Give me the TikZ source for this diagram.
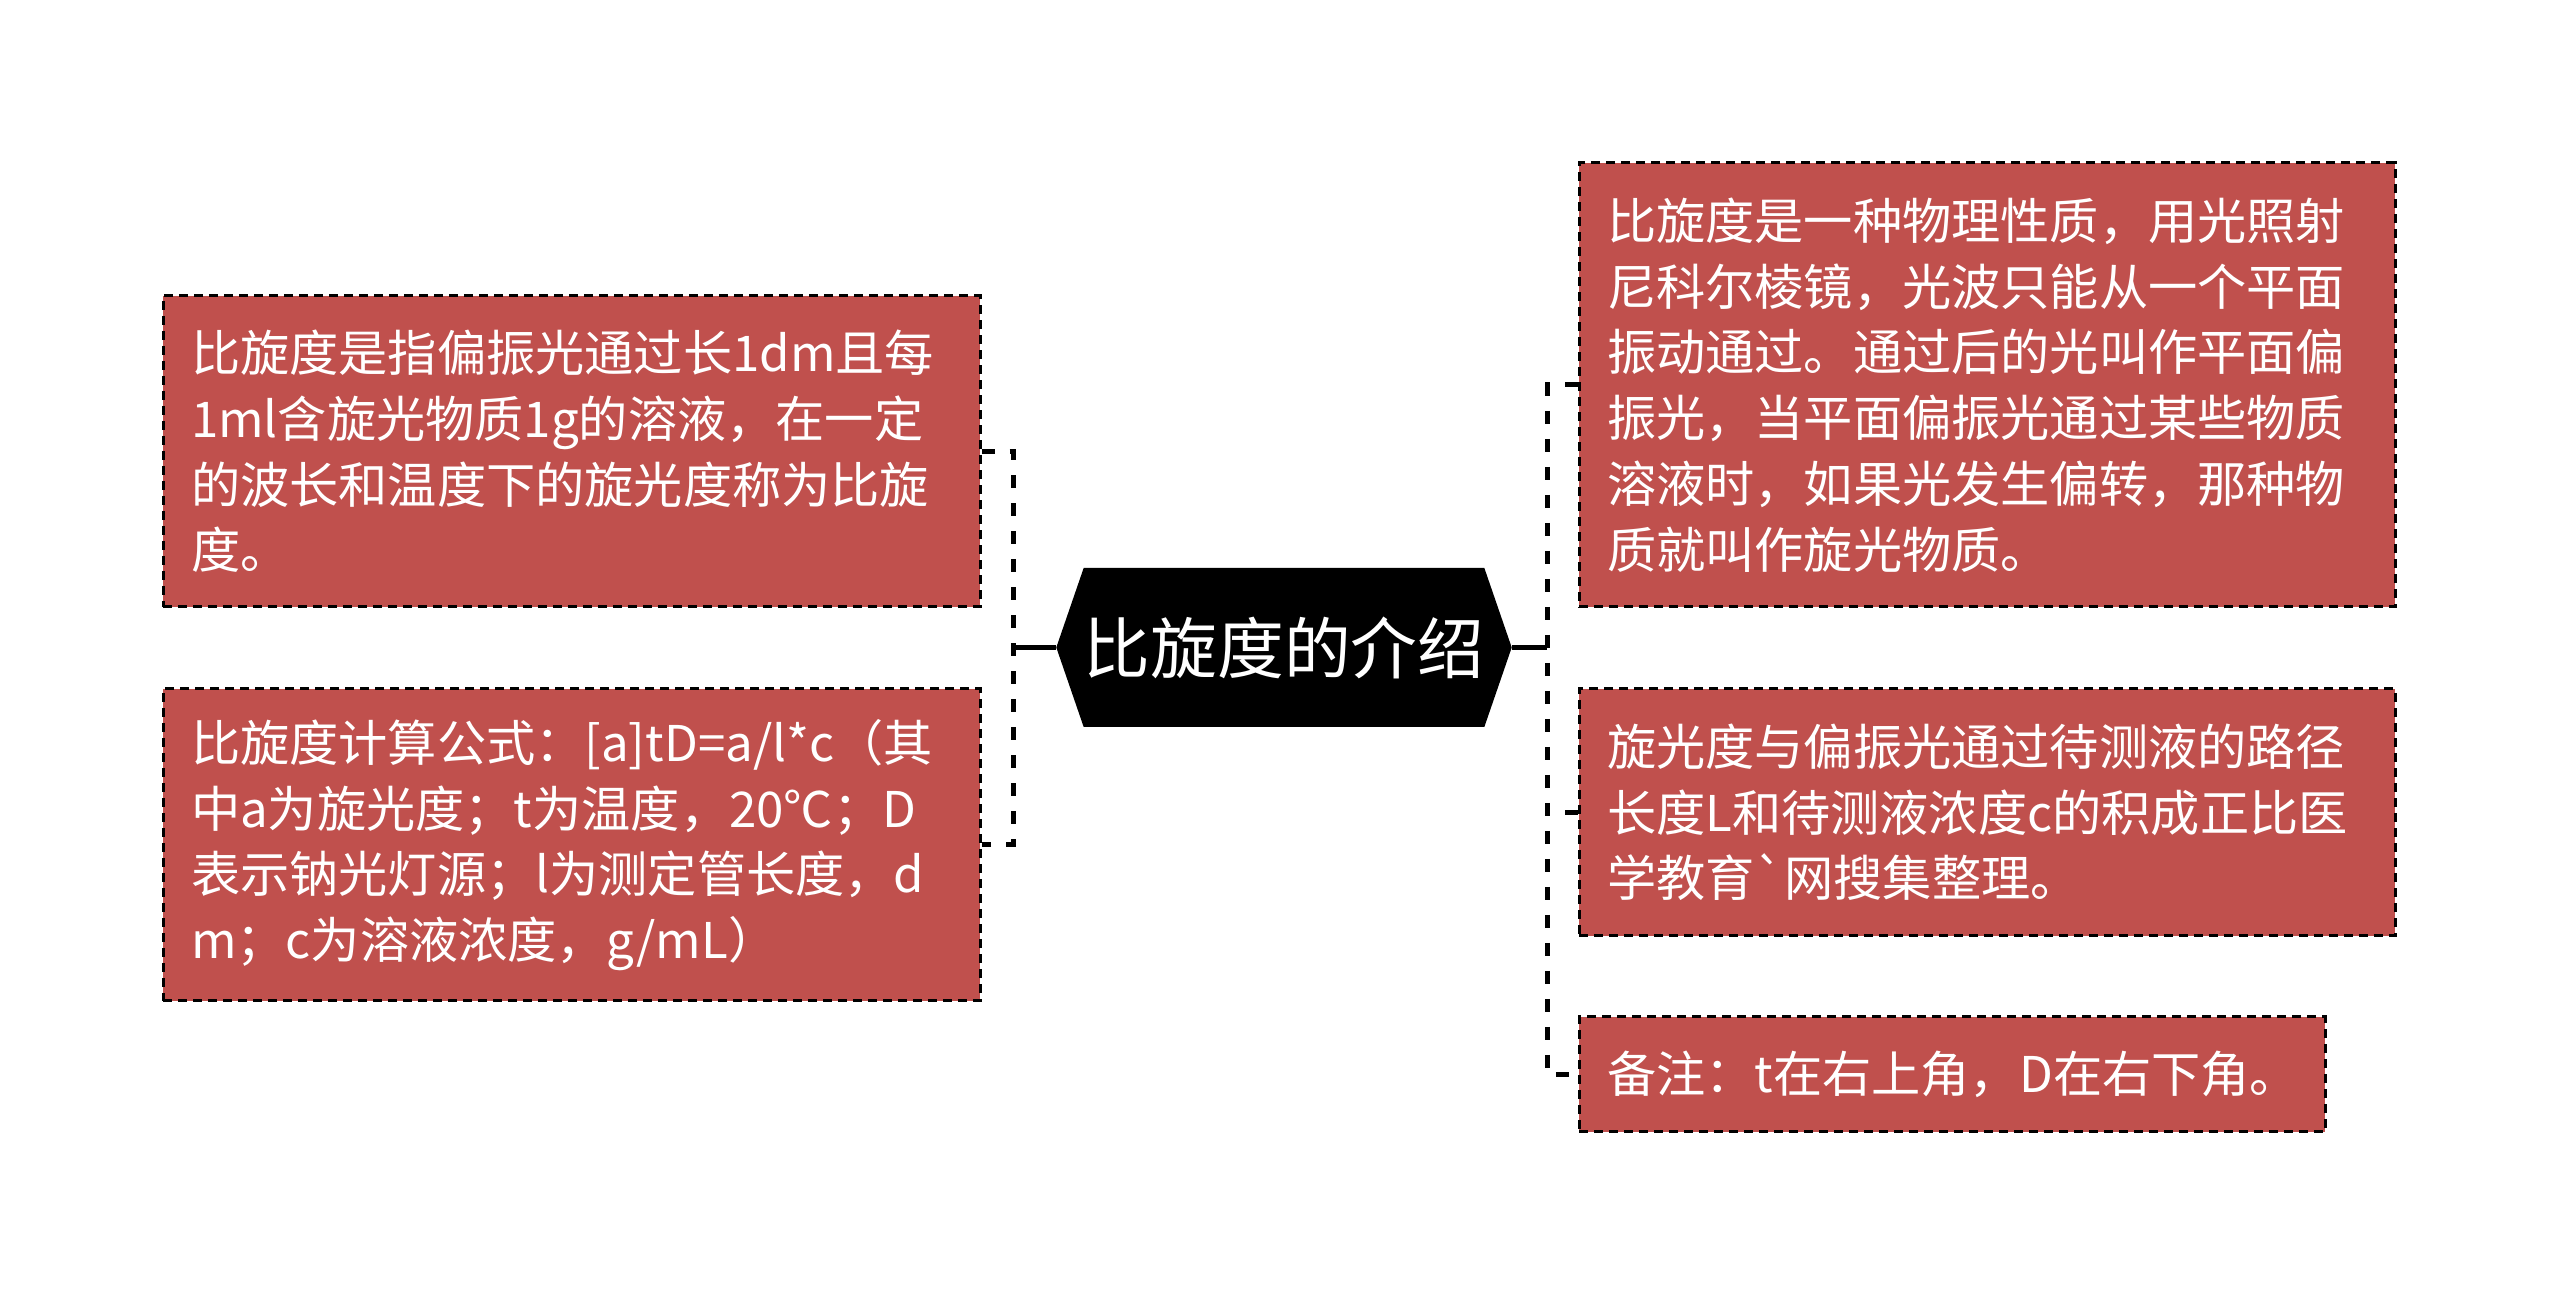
\documentclass[tikz,border=0pt]{standalone}
\usepackage{fontspec}
\newfontfamily\cjkfont{Noto Sans CJK SC}
\usetikzlibrary{shapes.symbols}
\definecolor{boxred}{HTML}{C0504D}

\begin{document}
\begin{tikzpicture}[
    leafbox/.style={draw=black, line width=0.03cm, dash pattern=on 0.09cm off 0.06cm,
        fill=boxred, text=white, align=left, inner xsep=0.28cm, inner ysep=0cm,
        font=\cjkfont\fontsize{14}{18.7}\selectfont},
    rootbox/.style={signal, signal to=east and west, signal pointer angle=142,
        fill=black, text=white, inner sep=0pt, minimum width=4.52cm, minimum height=1.59cm,
        font=\cjkfont\fontsize{19}{22}\selectfont},
    link/.style={line width=0.05cm, dash pattern=on 0.13cm off 0.15cm},
    stub/.style={line width=0.05cm}
]
\useasboundingbox (0,0) rectangle (25.6,12.97);

% Marking the root
\node[rootbox] (root) at (12.84,6.495) {比旋度的介绍};

% Marking the left boxes
\node[leafbox, text width=7.61cm, minimum height=3.11cm] (defn) at (5.715,8.455)
    {比旋度是指偏振光通过长1dm且每\\1ml含旋光物质1g的溶液，在一定\\的波长和温度下的旋光度称为比旋\\度。};
\node[leafbox, text width=7.61cm, minimum height=3.12cm] (formula) at (5.715,4.52)
    {比旋度计算公式：[a]tD=a/l*c（其\\中a为旋光度；t为温度，20℃；D\\表示钠光灯源；l为测定管长度，d\\m；c为溶液浓度，g/mL）};

% Marking the right boxes
\node[leafbox, text width=7.60cm, minimum height=4.44cm] (nature) at (19.87,9.12)
    {比旋度是一种物理性质，用光照射\\尼科尔棱镜，光波只能从一个平面\\振动通过。通过后的光叫作平面偏\\振光，当平面偏振光通过某些物质\\溶液时，如果光发生偏转，那种物\\质就叫作旋光物质。};
\node[leafbox, text width=7.60cm, minimum height=2.47cm] (ratio) at (19.87,4.845)
    {旋光度与偏振光通过待测液的路径\\长度L和待测液浓度c的积成正比医\\学教育{\char96}网搜集整理。};
\node[leafbox, text width=6.90cm, minimum height=1.15cm] (remark) at (19.52,2.225)
    {备注：t在右上角，D在右下角。};

% Drawing left links
\draw[stub] (root.west) -- ++(-0.42,0) coordinate (ltrunk);
\draw[link] (defn.east) -- (defn.east -| ltrunk) -- (formula.east -| ltrunk) -- (formula.east);

% Drawing right links
\draw[stub] (root.east) -- ++(0.35,0) coordinate (rtrunk);
\draw[link] (nature.west) -- (nature.west -| rtrunk) -- (remark.west -| rtrunk) -- (remark.west);
\draw[link] (ratio.west) -- (ratio.west -| rtrunk);
\end{tikzpicture}
\end{document}
